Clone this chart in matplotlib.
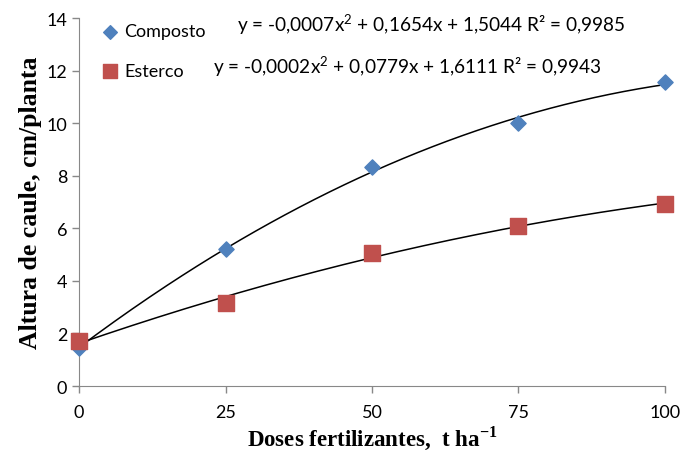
import numpy as np
import matplotlib
matplotlib.use("Agg")
import matplotlib.pyplot as plt

doses = [0, 25, 50, 75, 100]
composto = [1.45, 5.2, 8.33, 10.0, 11.55]
esterco = [1.72, 3.15, 5.05, 6.1, 6.92]

eq_composto = "y = -0,0007x$^2$ + 0,1654x + 1,5044 R² = 0,9985"
eq_esterco = "y = -0,0002x$^2$ + 0,0779x + 1,6111 R² = 0,9943"

x_ticks = [0, 25, 50, 75, 100]
y_ticks = list(range(0, 15, 2))

plt.rcParams['font.family'] = ['Lato', 'DejaVu Sans']
plt.rcParams['mathtext.fontset'] = 'custom'
plt.rcParams['mathtext.rm'] = 'Lato'
plt.rcParams['mathtext.bf'] = 'Liberation Serif:bold'

fig = plt.figure(figsize=(6.83, 4.56), dpi=100)
ax = fig.add_axes([0.1157, 0.1513, 0.8579, 0.807])

# quadratic trendlines fitted to the points
xs = np.linspace(0, 100, 200)
for ys in (composto, esterco):
    coef = np.polyfit(doses, ys, 2)
    ax.plot(xs, np.polyval(coef, xs), color="black", lw=1.1, zorder=2)

ax.scatter(doses, composto, marker="D", s=60, color="#4F81BD", zorder=3,
           label="Composto", clip_on=False)
ax.scatter(doses, esterco, marker="s", s=130, color="#C0504D", zorder=3,
           label="Esterco", clip_on=False)

ax.set_xlim(0, 100)
ax.set_ylim(0, 14)
ax.set_xticks(x_ticks)
ax.set_yticks(y_ticks)
ax.tick_params(colors="#888888", labelcolor="black", labelsize=13,
               length=5, width=1)
ax.tick_params(axis="x", pad=8)
for side in ("top", "right"):
    ax.spines[side].set_visible(False)
for side in ("left", "bottom"):
    ax.spines[side].set_color("#888888")

ax.set_xlabel("Doses fertilizantes,  t ha$^{\\mathbf{-1}}$", family="Liberation Serif",
              fontweight="bold", fontsize=16.5, labelpad=2)
ax.set_ylabel("Altura de caule, cm/planta", family="Liberation Serif",
              fontweight="bold", fontsize=18.5, labelpad=3)

leg = ax.legend(loc="upper left", bbox_to_anchor=(0.0, 1.02), frameon=False,
                fontsize=13, handletextpad=-0.2, labelspacing=1.3,
                borderaxespad=0.3, markerscale=0.9)

ax.text(0.27, 0.985, eq_composto, transform=ax.transAxes, fontsize=13.7,
        va="center", ha="left")
ax.text(0.228, 0.87, eq_esterco, transform=ax.transAxes, fontsize=13.7,
        va="center", ha="left")

fig.savefig("out.png", dpi=100)
